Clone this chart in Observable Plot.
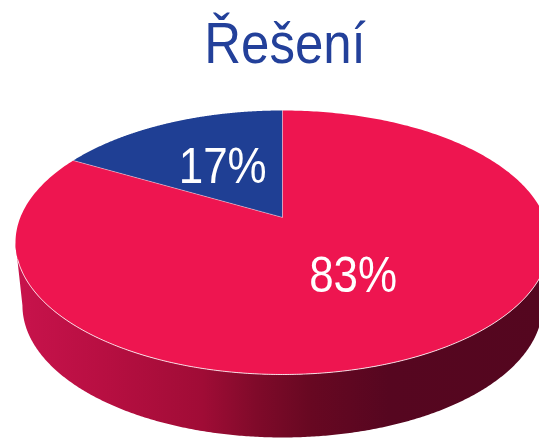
<!DOCTYPE html>
<html>
<head>
<meta charset="utf-8">
<script src="https://cdn.jsdelivr.net/npm/d3@7"></script>
<script src="https://cdn.jsdelivr.net/npm/@observablehq/plot@0.6"></script>
<style>
html,body{margin:0;padding:0;background:#fff}
svg{display:block;filter:blur(.45px)}
</style>
</head>
<body>
<div id="chart"></div>
<script>
const chartTitle = "Řešení";
const categories = ["A", "B"];
const shares = [17, 83];
const sliceColors = ["#1f3f94", "#ee1550"];
const labelRadii = [0.44, 0.52];
const wallOffsets = [0, 0.16, 0.35, 0.45, 0.55, 0.70, 1];
const wallColors = ["#c8134c", "#b80f42", "#a00c36", "#800a2a", "#680822", "#560620", "#54061f"];

// Disc geometry in disc radii; the hub sits above the ellipse centre by perspective.
const hubV = 0.19, wallDepth = 0.477, wallInset = 0.974, steps = 360;

function rim(pct) {
  const t = pct / 100 * 2 * Math.PI, dx = -Math.sin(t), dy = Math.cos(t);
  const b = hubV * dy, s = -b + Math.sqrt(b * b - hubV * hubV + 1);
  return {u: s * dx, v: hubV + s * dy};
}
const hub = {u: 0, v: hubV};
let start = 0;
const slices = categories.map((c, i) => {
  const from = start, to = start + shares[i];
  start = to;
  const pts = d3.range(0, steps + 1).map(k => rim(from + (to - from) * k / steps));
  const mid = (from + to) / 2 / 100 * 2 * Math.PI;
  return {
    category: c, share: shares[i], color: sliceColors[i],
    outline: [hub, ...pts, hub],
    spokes: [pts[0], hub, pts[pts.length - 1]],
    label: {u: -Math.sin(mid) * labelRadii[i], v: hubV + Math.cos(mid) * labelRadii[i], text: shares[i] + "%"}
  };
});

const front = d3.range(0, steps + 1).map(k => {
  const t = Math.PI * k / steps;
  return {u: -Math.cos(t), v: -Math.sin(t)};
});
const wall = [
  ...front,
  ...front.slice().reverse().map(p => ({u: p.u * wallInset, v: p.v - wallDepth}))
];
const rimLine = front.filter(p => p.v < -0.13 || p.u > 0);

const stretch = (index, scales, values, dims, ctx, next) => {
  const g = next(index, scales, values, dims, ctx);
  d3.select(g).selectAll("text").attr("transform", function () {
    return (this.getAttribute("transform") || "") + " scale(1,1.12)";
  });
  return g;
};

const shade = () => {
  const ns = "http://www.w3.org/2000/svg";
  const defs = document.createElementNS(ns, "defs");
  const grad = document.createElementNS(ns, "linearGradient");
  grad.setAttribute("id", "wallShade");
  wallOffsets.forEach((o, i) => {
    const s = document.createElementNS(ns, "stop");
    s.setAttribute("offset", o);
    s.setAttribute("stop-color", wallColors[i]);
    grad.appendChild(s);
  });
  defs.appendChild(grad);
  return defs;
};

const chart = Plot.plot({
  width: 539, height: 438,
  margin: 0,
  style: {background: "#fff", fontFamily: "'Liberation Sans', Arial, sans-serif"},
  x: {axis: null, domain: [-282 / 267, 257 / 267]},
  y: {axis: null, domain: [-196 / 132, 242 / 132]},
  marks: [
    shade,
    Plot.line(wall, {x: "u", y: "v", fill: "url(#wallShade)", stroke: "none"}),
    ...slices.map(s => Plot.line(s.outline, {x: "u", y: "v", fill: s.color, stroke: "none"})),
    Plot.line(rimLine, {x: "u", y: "v", stroke: "#fff", strokeWidth: 1, strokeOpacity: 0.8}),
    Plot.line(slices[0].spokes, {x: "u", y: "v", stroke: "#fff", strokeWidth: 1, strokeOpacity: 0.4}),
    Plot.text(slices.map(s => s.label), {
      x: "u", y: "v", text: "text", fill: "#fff", fontSize: 44,
      textAnchor: "middle", lineAnchor: "middle", render: stretch
    }),
    Plot.text([chartTitle], {
      frameAnchor: "top", dx: 15, dy: 62, lineAnchor: "bottom",
      fill: "#23409a", fontSize: 51, render: stretch
    })
  ]
});
document.getElementById("chart").appendChild(chart);
</script>
</body>
</html>
